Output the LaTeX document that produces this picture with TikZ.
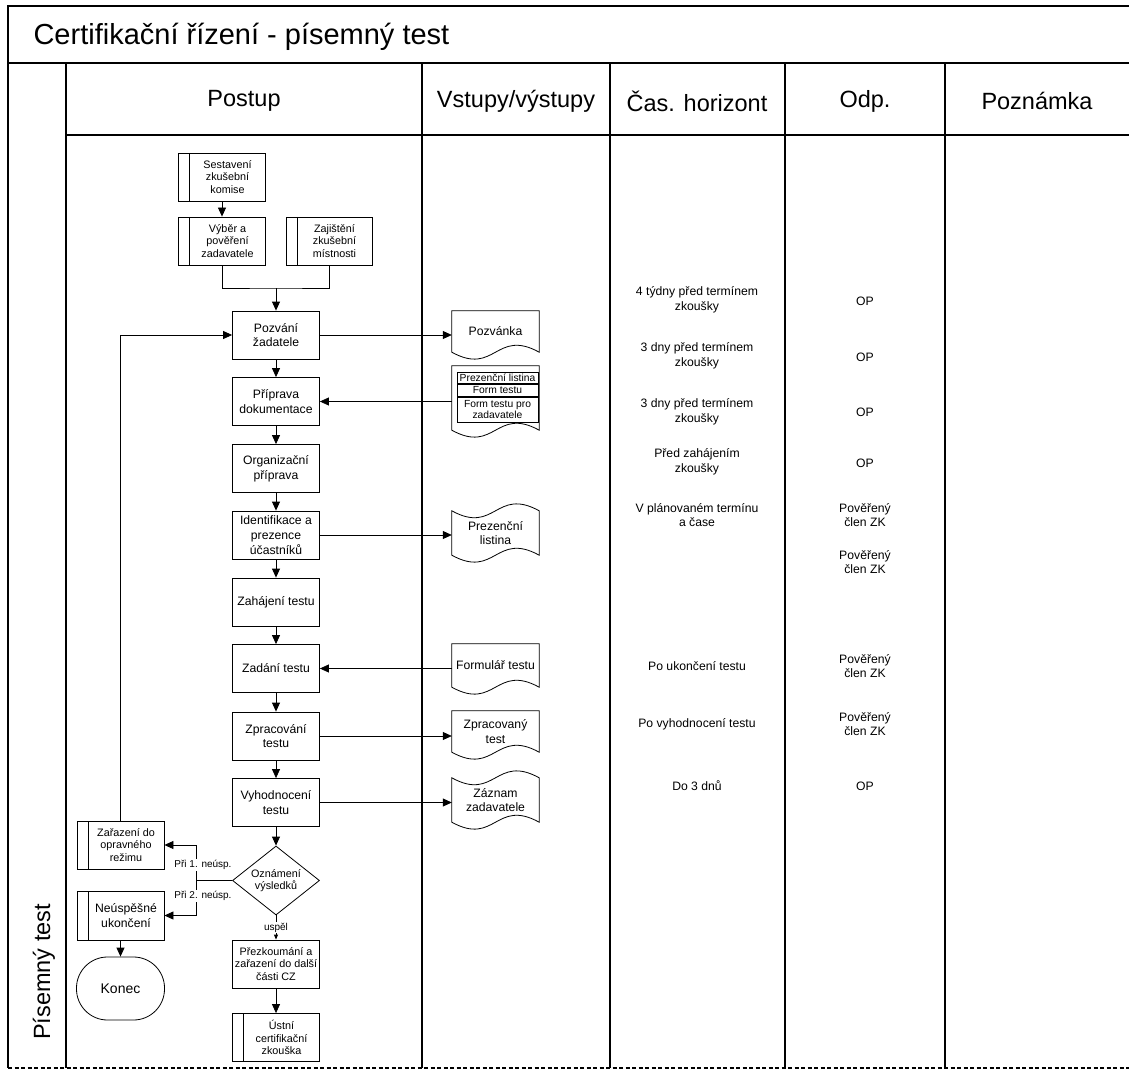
\documentclass[tikz,border=0pt]{standalone}
\usepackage{fontspec}
\setmainfont{Liberation Sans}
\usetikzlibrary{positioning,arrows.meta,shapes.geometric,calc}

\begin{document}
\begin{tikzpicture}[x=1pt, y=-1pt,
    fs/.style={font=\fontsize{12.2}{14.8}\selectfont},
    fsm/.style={font=\fontsize{10.8}{12.6}\selectfont},
    hdr/.style={font=\fontsize{23.5}{27}\selectfont},
    frame/.style={line width=1.1pt},
    conn/.style={line width=0.8pt},
    arr/.style={conn, -{Triangle[length=9pt,width=8pt]}},
    box/.style={draw, line width=0.8pt, minimum width=87pt, minimum height=48pt,
                inner sep=1pt, align=center, fs},
    subframe/.style={draw, line width=0.8pt, minimum width=87pt, minimum height=48pt, inner sep=0pt,
                   path picture={\draw ([xshift=11pt]path picture bounding box.north west)
                   -- ([xshift=11pt]path picture bounding box.south west);}},
    subbox/.style={subframe, label={[fsm, align=center, inner sep=0pt, xshift=5.5pt]center:#1}},
    subboxbig/.style={subframe, label={[fs, align=center, inner sep=0pt, xshift=5.5pt]center:#1}},
    decide/.style={diamond, draw, line width=0.8pt, minimum width=87pt, minimum height=69pt,
                   inner sep=0pt, aspect=1.26, align=center, fsm},
    term/.style={draw, line width=0.8pt, rounded corners=31pt, minimum width=88pt,
                 minimum height=63pt, font=\fontsize{14}{16}\selectfont},
    doc/.style={minimum width=87pt, inner sep=1pt, align=center, fs},
    tabrow/.style={draw, line width=1pt, minimum width=81pt, inner sep=0pt, align=center,
                   font=\fontsize{10.3}{11}\selectfont},
    note/.style={align=center, fs},
    lbl/.style={font=\fontsize{10}{12}\selectfont, fill=white, inner sep=1pt}]
  \useasboundingbox (0,0) rectangle (1129,1075);

  % table frame
  \draw[frame] (1129,6) -- (8,6) -- (8,1068);
  \draw[frame] (8,63) -- (1129,63);
  \draw[frame] (66,135) -- (1129,135);
  \foreach \x in {66,422,610,785,945}
    \draw[frame] (\x,63) -- (\x,1068);
  \draw[frame, dash pattern=on 4pt off 2.5pt] (8,1068) -- (1129,1068);

  \node[anchor=west, font=\fontsize{29}{33}\selectfont] (title) at (30,37) {Certifikační řízení - písemný test};
  \node[hdr] (hpostup) at (244,101) {Postup};
  \node[hdr] (hvstupy) at (516,101) {Vstupy/výstupy};
  \node[hdr] (hcas) at (697,101) {Čas. horizont};
  \node[hdr] (hodp) at (865,101) {Odp.};
  \node[hdr] (hpozn) at (1037,101) {Poznámka};
  \node[hdr, rotate=90] (lane) at (44,972) {Písemný test};

  % postup
  \node[subbox={Sestavení\\zkušební\\komise}] (sest) at (222,177) {};
  \node[subbox={Výběr a\\pověření\\zadavatele}] (vyber) at (222,241) {};
  \node[subbox={Zajištění\\zkušební\\místnosti}, minimum width=86pt] (zaj) at (329,241) {};
  \coordinate (jn) at (276,288);
  \node[box] (pozv) at (276,335) {Pozvání\\žadatele};
  \node[box] (prip) at (276,401.5) {Příprava\\dokumentace};
  \node[box] (org) at (276,468.5) {Organizační\\příprava};
  \node[box] (ident) at (276,535) {Identifikace a\\prezence\\účastníků};
  \node[box] (zah) at (276,602) {Zahájení testu};
  \node[box] (zad) at (276,668.5) {Zadání testu};
  \node[box] (zprac) at (276,736) {Zpracování\\testu};
  \node[box] (vyh) at (276,802.5) {Vyhodnocení\\testu};
  \node[decide] (dec) at (276,880.5) {Oznámení\\výsledků};
  \node[box, fsm] (prez) at (276,964) {Přezkoumání a\\zařazení do další\\části CZ};
  \node[subbox={Ústní\\certifikační\\zkouška}] (ustni) at (276,1037.5) {};
  \node[subbox={Zařazení do\\opravného\\režimu}] (zar) at (120.5,845) {};
  \node[subboxbig={Neúspěšné\\ukončení}, minimum height=49pt] (neusp) at (120.5,915.5) {};
  \node[term] (konec) at (120.5,988.5) {Konec};
  \coordinate (br) at (196,880.5);

  \foreach \a/\b in {sest/vyber, pozv/prip, prip/org, org/ident, ident/zah, zah/zad,
                     zad/zprac, zprac/vyh, vyh/dec, neusp/konec, prez/ustni}
    \draw[arr] (\a.south) -- (\b.north);
  \draw[conn] (vyber.south) |- (jn) -| (zaj.south);
  \draw[arr] (jn) -- (pozv.north);
  \draw[arr] (zar.north) |- (pozv.west);
  \draw[conn] (dec.west) -- (br);
  \draw[arr] (br) |- (zar.east);
  \draw[arr] (br) |- (neusp.east);
  \node[lbl] (l1) at (203,865) {Při 1. neúsp.};
  \node[lbl] (l2) at (203,896) {Při 2. neúsp.};
  \draw[conn, -{Triangle[length=5pt,width=4pt]}] (dec.south) -- node[lbl, pos=0.5] (l3) {uspěl} (prez.north);

  % vstupy a vystupy
  \node[doc, minimum height=41pt] (pozvanka) at (495.5,331.5) {Pozvánka};
  \node[doc, minimum height=64pt] (podklady) at (495.5,398) {};
  \node[doc, minimum height=44pt] (preze) at (495.5,533) {Prezenční\\listina};
  \node[doc, minimum height=43pt] (formular) at (495.5,665.5) {Formulář testu};
  \node[doc, minimum height=41pt] (zpracovany) at (495.5,731.5) {Zpracovaný\\test};
  \node[doc, minimum height=44pt] (zaznam) at (495.5,800) {Záznam\\zadavatele};
  \foreach \n in {pozvanka, podklady, formular, zpracovany}
    \draw[conn] (\n.north west) -- (\n.north east) -- (\n.south east)
      .. controls +(-43.5,-24) and +(43.5,24) .. (\n.south west) -- cycle;
  \foreach \n in {preze, zaznam}
    \draw[conn] (\n.south west) -- (\n.north west)
      .. controls +(43.5,24) and +(-43.5,-24) .. (\n.north east) -- (\n.south east)
      .. controls +(-43.5,-24) and +(43.5,24) .. (\n.south west) -- cycle;
  \node[tabrow, minimum height=11pt] (tab1) at (497.5,378) {Prezenční listina};
  \node[tabrow, minimum height=12pt, below=0pt of tab1] (tab2) {Form testu};
  \node[tabrow, minimum height=25pt, below=0pt of tab2] (tab3) {Form testu pro\\zadavatele};

  \draw[arr] (pozv.east) -- (pozv.east -| pozvanka.west);
  \draw[arr] (podklady.west |- prip.east) -- (prip.east);
  \draw[arr] (ident.east) -- (ident.east -| preze.west);
  \draw[arr] (formular.west |- zad.east) -- (zad.east);
  \draw[arr] (zprac.east) -- (zprac.east -| zpracovany.west);
  \draw[arr] (vyh.east) -- (vyh.east -| zaznam.west);

  % cas a odpovednost
  \node[note] (t1) at (697,300) {4 týdny před termínem\\zkoušky};
  \node[note] (t2) at (697,356) {3 dny před termínem\\zkoušky};
  \node[note] (t3) at (697,412) {3 dny před termínem\\zkoušky};
  \node[note] (t4) at (697,462) {Před zahájením\\zkoušky};
  \node[note] (t5) at (697,515) {V plánovaném termínu\\a čase};
  \node[note] (t6) at (697,666) {Po ukončení testu};
  \node[note] (t7) at (697,724) {Po vyhodnocení testu};
  \node[note] (t8) at (697,786) {Do 3 dnů};
  \node[note] (o1) at (865,301) {OP};
  \node[note] (o2) at (865,357) {OP};
  \node[note] (o3) at (865,412) {OP};
  \node[note] (o4) at (865,463) {OP};
  \node[note] (o5) at (865,515) {Pověřený\\člen ZK};
  \node[note] (o6) at (865,562) {Pověřený\\člen ZK};
  \node[note] (o7) at (865,666) {Pověřený\\člen ZK};
  \node[note] (o8) at (865,724) {Pověřený\\člen ZK};
  \node[note] (o9) at (865,786) {OP};
\end{tikzpicture}
\end{document}
